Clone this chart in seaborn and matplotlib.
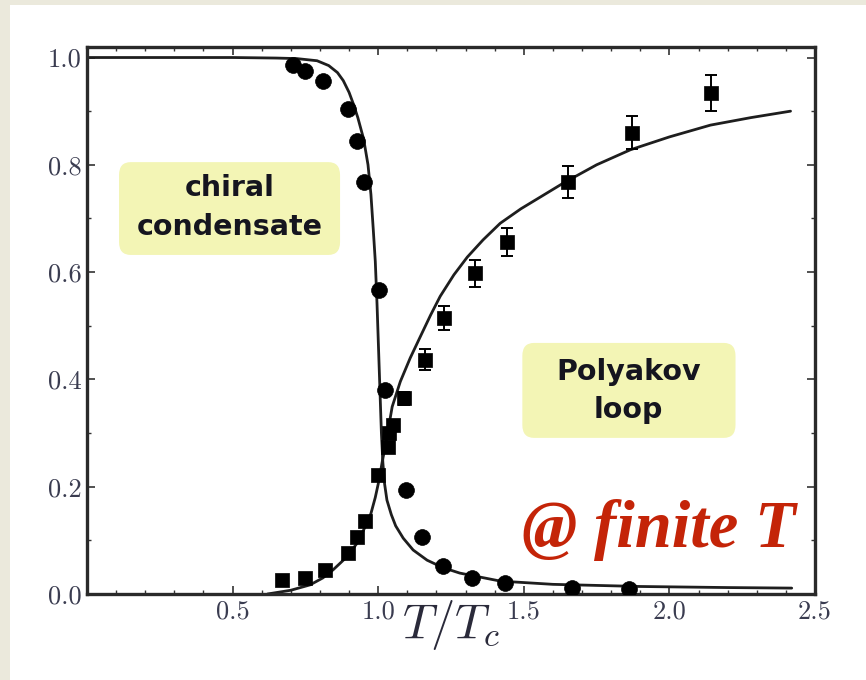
import matplotlib
matplotlib.use("Agg")
import matplotlib.pyplot as plt
from matplotlib.patches import FancyBboxPatch, Rectangle
from matplotlib.ticker import MultipleLocator
import seaborn as sns
import pandas as pd

# --- model curves (T/Tc, value) ---
chiral_curve_t = [0.0, 0.50, 0.65, 0.72, 0.79, 0.83, 0.86, 0.88, 0.90, 0.915, 0.93, 0.95,
                  0.965, 0.975, 0.983, 0.990, 0.996, 1.001, 1.006, 1.011, 1.016, 1.022,
                  1.030, 1.045, 1.060, 1.086, 1.120, 1.168, 1.223, 1.280, 1.420, 1.600,
                  1.900, 2.200, 2.420]
chiral_curve_v = [1.000, 1.000, 0.999, 0.998, 0.994, 0.985, 0.972, 0.957, 0.935, 0.913,
                  0.888, 0.848, 0.800, 0.745, 0.680, 0.620, 0.540, 0.460, 0.380, 0.300,
                  0.245, 0.205, 0.175, 0.148, 0.127, 0.104, 0.082, 0.063, 0.049, 0.039,
                  0.024, 0.018, 0.014, 0.012, 0.011]

polyakov_curve_t = [0.62, 0.70, 0.766, 0.81, 0.845, 0.89, 0.928, 0.955, 0.975, 0.990,
                    1.000, 1.007, 1.015, 1.024, 1.048, 1.076, 1.110, 1.144, 1.180, 1.213,
                    1.260, 1.306, 1.360, 1.419, 1.490, 1.557, 1.636, 1.750, 1.866, 2.000,
                    2.141, 2.280, 2.416]
polyakov_curve_v = [0.000, 0.007, 0.017, 0.030, 0.045, 0.068, 0.095, 0.125, 0.150, 0.180,
                    0.205, 0.225, 0.250, 0.274, 0.349, 0.396, 0.440, 0.479, 0.520, 0.555,
                    0.595, 0.628, 0.660, 0.691, 0.718, 0.740, 0.766, 0.800, 0.828, 0.852,
                    0.874, 0.888, 0.900]

# --- lattice data ---
chiral_t = [0.708, 0.750, 0.810, 0.897, 0.928, 0.952, 1.003, 1.024, 1.097, 1.150,
            1.223, 1.323, 1.436, 1.667, 1.862]
chiral_v = [0.986, 0.974, 0.957, 0.904, 0.844, 0.768, 0.567, 0.380, 0.194, 0.106,
            0.053, 0.029, 0.020, 0.011, 0.010]

polyakov_t = [0.670, 0.748, 0.818, 0.895, 0.926, 0.953, 1.000, 1.033, 1.038, 1.050,
              1.088, 1.160, 1.225, 1.333, 1.441, 1.653, 1.870, 2.144]
polyakov_v = [0.026, 0.030, 0.044, 0.076, 0.107, 0.137, 0.222, 0.274, 0.300, 0.315,
              0.365, 0.437, 0.515, 0.598, 0.656, 0.768, 0.860, 0.934]
polyakov_err = [0.004, 0.004, 0.004, 0.005, 0.005, 0.005, 0.006, 0.006, 0.006, 0.008,
                0.012, 0.020, 0.022, 0.025, 0.026, 0.030, 0.031, 0.034]

x_ticks = [0.5, 1.0, 1.5, 2.0, 2.5]
x_tick_labels = ["0.5", "1.0", "1.5", "2.0", "2.5"]
y_ticks = [0.0, 0.2, 0.4, 0.6, 0.8, 1.0]
y_tick_labels = ["0.0", "0.2", "0.4", "0.6", "0.8", "1.0"]

sns.set_theme(style="ticks")
plt.rcParams["mathtext.fontset"] = "cm"

W, H = 866, 680
fig = plt.figure(figsize=(W / 100, H / 100), dpi=100, facecolor="#ebe9dc")
# white slide panel behind the axes
fig.patches.append(Rectangle((10 / W, 0), 1 - 10 / W, (H - 5) / H,
                             transform=fig.transFigure, facecolor="white",
                             edgecolor="none", zorder=-10))

ax = fig.add_axes([87 / W, (H - 594) / H, (815 - 87) / W, (594 - 47) / H])
ax.set_facecolor("white")

line_col = "#1e1e1e"
curves = pd.DataFrame({"t": chiral_curve_t, "v": chiral_curve_v})
sns.lineplot(data=curves, x="t", y="v", ax=ax, sort=False, color=line_col, lw=2.0,
             estimator=None)
curves_p = pd.DataFrame({"t": polyakov_curve_t, "v": polyakov_curve_v})
sns.lineplot(data=curves_p, x="t", y="v", ax=ax, sort=False, color=line_col, lw=2.0,
             estimator=None)

ax.errorbar(polyakov_t, polyakov_v, yerr=polyakov_err, fmt="none", ecolor="black",
            elinewidth=1.4, capsize=4, capthick=1.4, zorder=3)
sns.scatterplot(x=polyakov_t, y=polyakov_v, ax=ax, marker="s", s=95, color="black",
                edgecolor="black", linewidth=0.5, zorder=4)
sns.scatterplot(x=chiral_t, y=chiral_v, ax=ax, marker="o", s=130, color="black",
                edgecolor="black", linewidth=0.5, zorder=4)

ax.set_xlim(0, 2.5)
ax.set_ylim(0, 1.0196)

tick_col = "#3a3c50"
ax.set_xticks(x_ticks)
ax.set_xticklabels(x_tick_labels, fontfamily="cmr10", fontsize=19, color=tick_col)
ax.set_yticks(y_ticks)
ax.set_yticklabels(y_tick_labels, fontfamily="cmr10", fontsize=19, color=tick_col)
ax.xaxis.set_minor_locator(MultipleLocator(0.1))
ax.yaxis.set_minor_locator(MultipleLocator(0.1))
ax.tick_params(which="both", direction="in", top=True, right=True, color="#333333")
ax.tick_params(which="major", length=6, width=1.2, pad=4)
ax.tick_params(which="minor", length=3, width=1.0)
for s in ax.spines.values():
    s.set_linewidth(2.4)
    s.set_color("#2a2a2a")

ax.set_xlabel(r"$T/T_c$", fontsize=35, color="#2a2a3a")
ax.set_ylabel("")
ax.xaxis.set_label_coords(0.5, -0.008)

# annotation boxes
box_col = "#f3f5b5"
for (x0, y0, x1, y1) in [(0.110, 0.632, 0.869, 0.805), (1.495, 0.291, 2.227, 0.468)]:
    ax.add_patch(FancyBboxPatch((x0, y0), x1 - x0, y1 - y0,
                                boxstyle="round,pad=0,rounding_size=0.04",
                                mutation_aspect=0.6,
                                facecolor=box_col, edgecolor="none", zorder=1))

txt_kw = dict(fontsize=20.5, fontweight="bold", color="#15151f", ha="center",
              va="center", fontfamily="DejaVu Sans", zorder=2)
ax.text(0.491, 0.757, "chiral", **txt_kw)
ax.text(0.491, 0.684, "condensate", **txt_kw)
ax.text(1.859, 0.414, "Polyakov", **txt_kw)
ax.text(1.859, 0.343, "loop", **txt_kw)

ax.text(1.495, 0.0876, "@ finite T", fontsize=48, fontweight="bold",
        fontstyle="italic", fontfamily="Liberation Serif", color="#c42408",
        ha="left", va="baseline", zorder=5)

fig.savefig("out.png", dpi=100, facecolor=fig.get_facecolor())
